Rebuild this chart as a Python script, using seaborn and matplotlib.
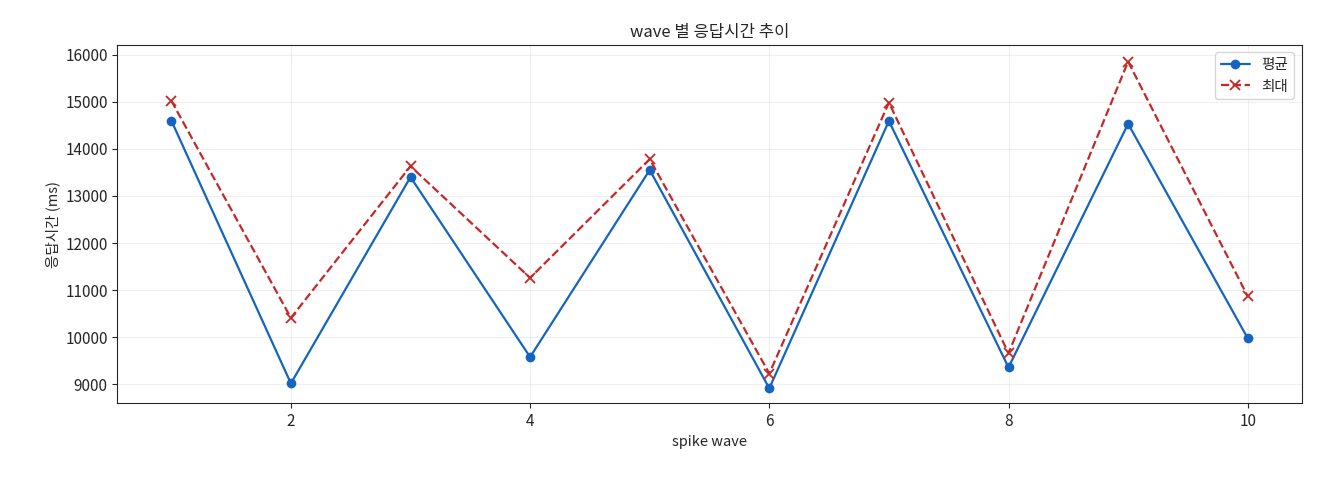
import matplotlib
matplotlib.use("Agg")
import matplotlib.pyplot as plt
import seaborn as sns
import pandas as pd

waves = [1, 2, 3, 4, 5, 6, 7, 8, 9, 10]
avg_ms = [14600, 9020, 13400, 9580, 13550, 8915, 14590, 9360, 14530, 9980]
max_ms = [15020, 10410, 13630, 11260, 13780, 9230, 14980, 9660, 15850, 10870]

sns.set_style("ticks")
plt.rcParams['font.family'] = ['Noto Sans CJK KR', 'DejaVu Sans']

df = pd.DataFrame({"wave": waves, "avg": avg_ms, "max": max_ms})
fig, ax = plt.subplots(figsize=(13.2, 4.8), dpi=100)
fig.subplots_adjust(left=0.089, right=0.986, top=0.906, bottom=0.16)

sns.lineplot(data=df, x="wave", y="avg", ax=ax, color="#1565c0", marker="o",
             markersize=7, markeredgewidth=0, linewidth=1.6, label="평균")
sns.lineplot(data=df, x="wave", y="max", ax=ax, color="#c62828", marker="x",
             markersize=7, markeredgewidth=1.3, markeredgecolor="#c62828",
             linewidth=1.6, linestyle="--", label="최대")

ax.set_title("wave 별 응답시간 추이", fontsize=12)
ax.set_xlabel("spike wave", fontsize=10.5)
ax.set_ylabel("응답시간 (ms)", fontsize=10.5)
ax.set_xticks([2, 4, 6, 8, 10])
ax.set_yticks(range(9000, 16001, 1000))
ax.set_ylim(8600, 16200)
ax.grid(True, alpha=0.3)
ax.tick_params(labelsize=11)
ax.legend(loc="upper right", fontsize=10.5)
fig.savefig("out.png")
